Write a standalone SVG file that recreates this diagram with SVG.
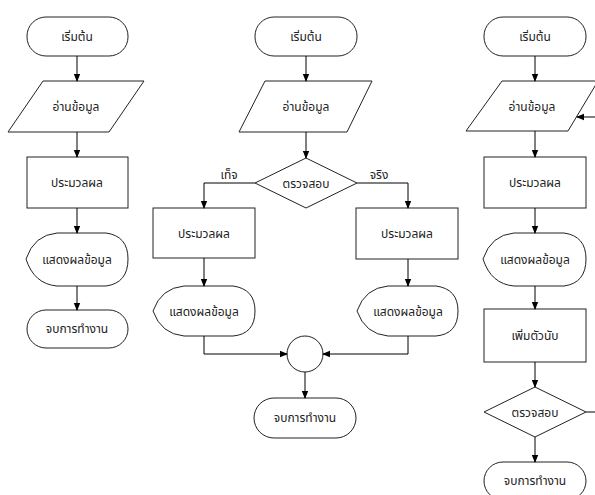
<svg xmlns="http://www.w3.org/2000/svg" width="595" height="495" viewBox="0 0 595 495">
<defs>
<marker id="ah" markerWidth="8" markerHeight="8" refX="7" refY="4" orient="auto" markerUnits="userSpaceOnUse">
<path d="M0,0.8 L8,4 L0,7.2 Z" fill="#000"/>
</marker>
<style>
.s{fill:#fff;stroke:#222;stroke-width:1}
.t{font-family:"Noto Sans Thai","Tahoma","DejaVu Sans","Liberation Sans",sans-serif;font-size:12px;fill:#222;text-anchor:middle}
.c{fill:none;stroke:#000;stroke-width:1}
</style>
</defs>
<rect width="595" height="495" fill="#fff"/>
<!-- Chart 1 -->
<g id="c1-start"><rect class="s" x="27" y="17" width="101" height="39" rx="19"/><text class="t" x="77" y="41">เริ่มต้น</text></g>
<g id="c1-read"><polygon class="s" points="43,81 144,81 109,132 8,132"/><text class="t" x="76" y="111">อ่านข้อมูล</text></g>
<g id="c1-proc"><rect class="s" x="27" y="157" width="101" height="51"/><text class="t" x="77" y="187">ประมวลผล</text></g>
<g id="c1-disp"><path class="s" d="M26,259 Q34,235 57,233 L106,233 Q128,236 128,259 Q128,283 106,286 L57,286 Q34,284 26,259 Z"/><text class="t" x="77" y="264">แสดงผลข้อมูล</text></g>
<g id="c1-end"><rect class="s" x="27" y="310" width="101" height="38" rx="19"/><text class="t" x="77" y="333">จบการทำงาน</text></g>
<!-- Chart 2 -->
<g id="c2-start"><rect class="s" x="255" y="17" width="102" height="39" rx="19"/><text class="t" x="306" y="41">เริ่มต้น</text></g>
<g id="c2-read"><polygon class="s" points="265,81 372,81 347,132 239,132"/><text class="t" x="306" y="111">อ่านข้อมูล</text></g>
<g id="c2-dec"><polygon class="s" points="306,158 357,183 306,208 255,183"/><text class="t" x="306" y="188">ตรวจสอบ</text></g>
<g id="c2-procL"><rect class="s" x="153" y="208" width="102" height="50"/><text class="t" x="204" y="238">ประมวลผล</text></g>
<g id="c2-procR"><rect class="s" x="356" y="208" width="102" height="51"/><text class="t" x="407" y="238">ประมวลผล</text></g>
<g id="c2-dispL"><path class="s" d="M153,311 Q161,288 184,286 L233,286 Q255,289 255,311 Q255,334 233,336 L184,336 Q161,334 153,311 Z"/><text class="t" x="204" y="316">แสดงผลข้อมูล</text></g>
<g id="c2-dispR"><path class="s" d="M357,311 Q365,288 388,286 L436,286 Q458,289 458,311 Q458,334 436,336 L388,336 Q365,334 357,311 Z"/><text class="t" x="408" y="316">แสดงผลข้อมูล</text></g>
<g id="c2-join"><circle class="s" cx="305" cy="354" r="18"/></g>
<g id="c2-end"><rect class="s" x="254" y="398" width="102" height="40" rx="20"/><text class="t" x="305" y="422">จบการทำงาน</text></g>
<text class="t" x="229" y="179">เท็จ</text>
<text class="t" x="379" y="179">จริง</text>
<!-- Chart 3 -->
<g id="c3-start"><rect class="s" x="484" y="17" width="102" height="39" rx="19"/><text class="t" x="535" y="41">เริ่มต้น</text></g>
<g id="c3-read"><polygon class="s" points="502,81 598,81 568,131 466,131"/><text class="t" x="532" y="111">อ่านข้อมูล</text></g>
<g id="c3-proc"><rect class="s" x="484" y="157" width="102" height="51"/><text class="t" x="535" y="187">ประมวลผล</text></g>
<g id="c3-disp"><path class="s" d="M483,259 Q491,235 514,233 L564,233 Q586,236 586,259 Q586,283 564,286 L514,286 Q491,284 483,259 Z"/><text class="t" x="535" y="264">แสดงผลข้อมูล</text></g>
<g id="c3-inc"><rect class="s" x="484" y="309" width="102" height="53"/><text class="t" x="535" y="340">เพิ่มตัวนับ</text></g>
<g id="c3-dec"><polygon class="s" points="535,387 586,412 535,437 484,412"/><text class="t" x="535" y="417">ตรวจสอบ</text></g>
<g id="c3-end"><rect class="s" x="484" y="462" width="102" height="38" rx="19"/><text class="t" x="535" y="485">จบการทำงาน</text></g>
<!-- Connectors -->
<g id="connectors">
<line class="c" x1="77" y1="56" x2="77" y2="81" marker-end="url(#ah)"/>
<line class="c" x1="77" y1="132" x2="77" y2="157" marker-end="url(#ah)"/>
<line class="c" x1="77" y1="208" x2="77" y2="233" marker-end="url(#ah)"/>
<line class="c" x1="77" y1="286" x2="77" y2="310" marker-end="url(#ah)"/>
<line class="c" x1="306" y1="56" x2="306" y2="81" marker-end="url(#ah)"/>
<line class="c" x1="306" y1="132" x2="306" y2="158" marker-end="url(#ah)"/>
<polyline class="c" points="255,183 204,183 204,208" marker-end="url(#ah)"/>
<polyline class="c" points="357,183 408,183 408,208" marker-end="url(#ah)"/>
<line class="c" x1="204" y1="258" x2="204" y2="286" marker-end="url(#ah)"/>
<line class="c" x1="408" y1="259" x2="408" y2="286" marker-end="url(#ah)"/>
<polyline class="c" points="204,336 204,354 287,354" marker-end="url(#ah)"/>
<polyline class="c" points="408,336 408,354 323,354" marker-end="url(#ah)"/>
<line class="c" x1="305" y1="372" x2="305" y2="398" marker-end="url(#ah)"/>
<line class="c" x1="535" y1="56" x2="535" y2="81" marker-end="url(#ah)"/>
<line class="c" x1="535" y1="131" x2="535" y2="157" marker-end="url(#ah)"/>
<line class="c" x1="535" y1="208" x2="535" y2="233" marker-end="url(#ah)"/>
<line class="c" x1="535" y1="286" x2="535" y2="309" marker-end="url(#ah)"/>
<line class="c" x1="535" y1="362" x2="535" y2="387" marker-end="url(#ah)"/>
<line class="c" x1="535" y1="437" x2="535" y2="462" marker-end="url(#ah)"/>
<line class="c" x1="586" y1="412" x2="600" y2="412"/>
<line class="c" x1="600" y1="117" x2="577" y2="117" marker-end="url(#ah)"/>
</g>
</svg>
